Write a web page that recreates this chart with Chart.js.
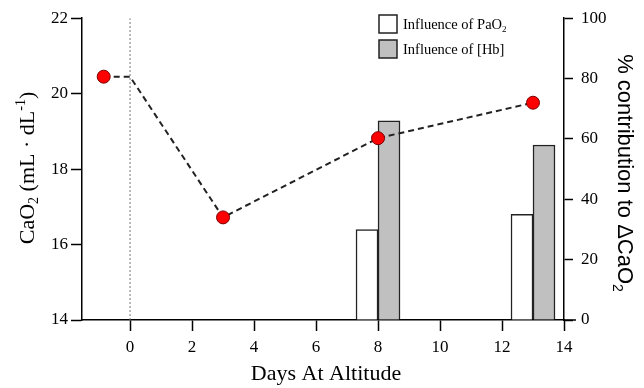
<!DOCTYPE html>
<html>
<head>
<meta charset="utf-8">
<script src="https://cdn.jsdelivr.net/npm/chart.js@4.4.1/dist/chart.umd.min.js"></script>
<style>
  html, body { margin: 0; padding: 0; background: #fff; }
  canvas { display: block; }
</style>
</head>
<body>
<canvas id="c" width="644" height="388"></canvas>
<script>
// ---- data ----
const lineDays = [-0.85, 0, 3, 8, 13];
const cao2Values = [20.45, 20.45, 16.72, 18.82, 19.76];
const showMarker = [true, false, true, true, true];
const barDays = [8, 13];
const pao2Influence = [30, 35];
const hbInfluence = [66, 58];
const xTickValues = [0, 2, 4, 6, 8, 10, 12, 14];
const yTickValues = [14, 16, 18, 20, 22];
const y1TickValues = [0, 20, 40, 60, 80, 100];
const altitudeDay = [0];

const FONT = "'Liberation Serif', 'Times New Roman', serif";
const SANS = "'Liberation Sans', Arial, sans-serif";

function drawRuns(ctx, runs, fam) {
  let w = 0;
  runs.forEach(r => { ctx.font = r.size + 'px ' + fam; r.w = ctx.measureText(r.t).width; w += r.w; });
  let x = -w / 2;
  runs.forEach(r => {
    ctx.font = r.size + 'px ' + fam;
    ctx.fillText(r.t, x, r.dy);
    x += r.w;
  });
}

const decor = {
  id: 'decor',
  afterDraw(chart) {
    const ctx = chart.ctx;
    ctx.save();
    ctx.fillStyle = '#000';
    ctx.textBaseline = 'middle';
    ctx.textAlign = 'left';
    // left title
    ctx.save();
    ctx.translate(28, 168);
    ctx.rotate(-Math.PI / 2);
    drawRuns(ctx, [
      {t: 'CaO', size: 22, dy: 0},
      {t: '2', size: 14, dy: 6},
      {t: ' (mL \u00B7 dL', size: 22, dy: 0},
      {t: '-1', size: 14, dy: -7},
      {t: ')', size: 22, dy: 0}
    ], FONT);
    ctx.restore();
    // right title
    ctx.save();
    ctx.translate(624, 173);
    ctx.rotate(Math.PI / 2);
    drawRuns(ctx, [
      {t: '% contribution to \u0394CaO', size: 22, dy: 0},
      {t: '2', size: 14, dy: 7}
    ], SANS);
    ctx.restore();
    // x title
    ctx.save();
    ctx.translate(326, 374);
    drawRuns(ctx, [{t: 'Days At Altitude', size: 22, dy: 0}], FONT);
    ctx.restore();
    // legend
    ctx.lineWidth = 1.5;
    ctx.strokeStyle = '#222';
    ctx.fillStyle = '#ffffff';
    ctx.fillRect(379, 15, 18, 18);
    ctx.strokeRect(379, 15, 18, 18);
    ctx.fillStyle = '#c0c0c0';
    ctx.fillRect(379, 40, 18, 18);
    ctx.strokeRect(379, 40, 18, 18);
    ctx.fillStyle = '#000';
    ctx.textBaseline = 'alphabetic';
    ctx.font = '14.5px ' + FONT;
    let t1 = 'Influence of PaO';
    ctx.fillText(t1, 403, 29);
    let w1 = ctx.measureText(t1).width;
    ctx.font = '9px ' + FONT;
    ctx.fillText('2', 403 + w1, 32);
    ctx.font = '14.5px ' + FONT;
    ctx.fillText('Influence of [Hb]', 403, 54);
    // extend x axis line a bit to the right
    ctx.strokeStyle = '#000';
    ctx.beginPath();
    ctx.moveTo(chart.chartArea.right, chart.chartArea.bottom);
    ctx.lineTo(chart.chartArea.right + 12, chart.chartArea.bottom);
    ctx.stroke();
    ctx.restore();
  }
};

const lineData = lineDays.map((d, i) => ({x: d, y: cao2Values[i]}));
const vline = [{x: altitudeDay[0], y: yTickValues[0]}, {x: altitudeDay[0], y: yTickValues[yTickValues.length - 1]}];

new Chart(document.getElementById('c'), {
  type: 'bar',
  data: {
    datasets: [
      {
        type: 'line', label: 'CaO2', data: lineData, yAxisID: 'y', order: 0,
        borderColor: '#222', borderWidth: 2, borderDash: [6, 4], fill: false, tension: 0,
        pointRadius: c => showMarker[c.dataIndex] ? 6.5 : 0,
        pointBackgroundColor: '#ff0000', pointBorderColor: '#7a0000', pointBorderWidth: 1
      },
      {
        type: 'line', label: 'altitude', data: vline, yAxisID: 'y', order: 3,
        borderColor: '#777', borderWidth: 1, borderDash: [2, 2], pointRadius: 0, fill: false
      },
      {
        label: 'Influence of PaO2', data: barDays.map((d, i) => ({x: d, y: pao2Influence[i]})),
        yAxisID: 'y1', order: 2, backgroundColor: '#ffffff', borderColor: '#222', borderWidth: 1.5,
        barThickness: 22
      },
      {
        label: 'Influence of [Hb]', data: barDays.map((d, i) => ({x: d, y: hbInfluence[i]})),
        yAxisID: 'y1', order: 2, backgroundColor: '#c0c0c0', borderColor: '#222', borderWidth: 1.5,
        barThickness: 22
      }
    ]
  },
  options: {
    responsive: false,
    animation: false,
    devicePixelRatio: 1,
    layout: { padding: { top: 16, left: 0, right: 0, bottom: 0 } },
    plugins: { legend: { display: false }, tooltip: { enabled: false } },
    scales: {
      x: {
        type: 'linear', min: -1.55, max: 14, offset: false,
        afterBuildTicks: s => { s.ticks = xTickValues.map(v => ({value: v})); },
        afterFit: s => { s.height = 68; },
        grid: { offset: false, drawOnChartArea: false, drawTicks: true, tickLength: 11, tickColor: '#000', tickWidth: 1.5 },
        border: { display: true, color: '#000', width: 1.5 },
        ticks: { color: '#000', font: { family: FONT, size: 17 }, padding: 6, maxRotation: 0 }
      },
      y: {
        type: 'linear', position: 'left', min: 14, max: 22,
        afterBuildTicks: s => { s.ticks = yTickValues.map(v => ({value: v})); },
        afterFit: s => { s.width = 82; },
        grid: { drawOnChartArea: false, drawTicks: true, tickLength: 11, tickColor: '#000', tickWidth: 1.5 },
        border: { display: true, color: '#000', width: 1.5 },
        ticks: { color: '#000', font: { family: FONT, size: 17 }, padding: 3 }
      },
      y1: {
        type: 'linear', position: 'right', min: 0, max: 100,
        afterBuildTicks: s => { s.ticks = y1TickValues.map(v => ({value: v})); },
        afterFit: s => { s.width = 80; },
        grid: { drawOnChartArea: false, drawTicks: true, tickLength: 9, tickColor: '#000', tickWidth: 1.5 },
        border: { display: true, color: '#000', width: 1.5 },
        ticks: { color: '#000', font: { family: FONT, size: 17 }, padding: 8 }
      }
    }
  },
  plugins: [decor]
});
</script>
</body>
</html>
